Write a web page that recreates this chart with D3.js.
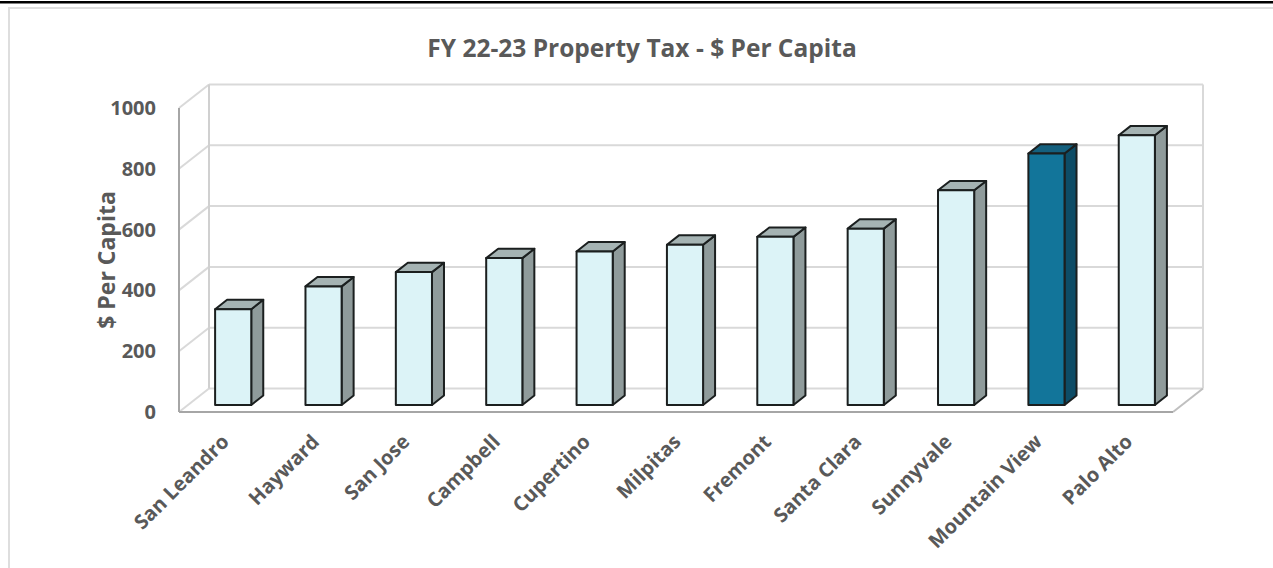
<!DOCTYPE html>
<html>
<head>
<meta charset="utf-8">
<script src="https://cdn.jsdelivr.net/npm/d3@7"></script>
<style>
  html, body { margin: 0; padding: 0; background: #fff; }
  svg { display: block; }
  text { font-family: "Open Sans", "DejaVu Sans", sans-serif; font-weight: 700; fill: #595959; }
</style>
</head>
<body>
<svg id="chart" width="1273" height="568"></svg>
<script>
// FY 22-23 property tax revenue per resident, by city
const cities = ["San Leandro", "Hayward", "San Jose", "Campbell", "Cupertino", "Milpitas",
                "Fremont", "Santa Clara", "Sunnyvale", "Mountain View", "Palo Alto"];
const perCapita = [315, 390, 437, 483, 505, 527, 553, 580, 706, 827, 887];
const highlighted = ["Mountain View"];
const yTicks = [0, 200, 400, 600, 800, 1000];
const chartTitle = "FY 22-23 Property Tax - $ Per Capita";
const yTitle = "$ Per Capita";

const svg = d3.select("#chart");

// page frame
svg.append("rect").attr("x", 0).attr("y", 1).attr("width", 1273).attr("height", 2.5).attr("fill", "#000");
svg.append("path").attr("d", "M9,568 V8 H1273").attr("fill", "none").attr("stroke", "#dedede").attr("stroke-width", 2);

// front plane scales; depth is projected with a fixed oblique offset
const y = d3.scaleLinear().domain([0, 1000]).range([412, 108]);
const x = d3.scaleBand().domain(cities).range([179, 1173]).paddingInner(0.6).paddingOuter(0.3);
const DX = 30, DY = 23.5;
const proj = (px, v, z) => [px + z * DX, y(v) - z * DY];
const line = d3.line();

const x0 = x.range()[0], x1 = x.range()[1];
const vMax = y.domain()[1];

const walls = svg.append("g");
// back wall gridlines and side-wall diagonals
yTicks.forEach(t => {
  walls.append("path").attr("d", line([proj(x0, t, 1), proj(x1, t, 1)]))
    .attr("stroke", "#d9d9d9").attr("stroke-width", 2).attr("fill", "none");
  walls.append("path").attr("d", line([proj(x0, t, 0), proj(x0, t, 1)]))
    .attr("stroke", "#d9d9d9").attr("stroke-width", 2).attr("fill", "none");
});
// back wall verticals
walls.append("path").attr("d", line([proj(x0, 0, 1), proj(x0, vMax, 1)]))
  .attr("stroke", "#d0d0d0").attr("stroke-width", 2).attr("fill", "none");
walls.append("path").attr("d", line([proj(x1, 0, 1), proj(x1, vMax, 1)]))
  .attr("stroke", "#d9d9d9").attr("stroke-width", 2).attr("fill", "none");
// floor right edge and front edges
walls.append("path").attr("d", line([proj(x1, 0, 0), proj(x1, 0, 1)]))
  .attr("stroke", "#bfbfbf").attr("stroke-width", 2).attr("fill", "none");
walls.append("path").attr("d", line([proj(x0, 0, 0), proj(x1, 0, 0)]))
  .attr("stroke", "#a6a6a6").attr("stroke-width", 2).attr("fill", "none");
walls.append("path").attr("d", line([proj(x0, 0, 0), proj(x0, vMax, 0)]))
  .attr("stroke", "#a6a6a6").attr("stroke-width", 2).attr("fill", "none");

// y tick labels
svg.append("g").selectAll("text").data(yTicks).join("text")
  .attr("x", x0 - 23).attr("y", d => y(d)).attr("dy", "0.35em")
  .attr("text-anchor", "end").style("font-size", "20px")
  .text(d => d);

// 3D bars: front, side and top faces
const Z0 = 0.3, Z1 = 0.7;
const palette = {
  normal: { front: "#dcf3f7", side: "#8f9b9b", top: "#a5b3b3" },
  hi: { front: "#12759a", side: "#0d4c66", top: "#14607e" }
};
const bars = svg.append("g").selectAll("g").data(cities.map((c, i) => ({ c, v: perCapita[i] }))).join("g");
bars.each(function(d) {
  const g = d3.select(this);
  const col = highlighted.includes(d.c) ? palette.hi : palette.normal;
  const l = x(d.c), r = x(d.c) + x.bandwidth();
  const face = (pts, fill) => g.append("path").attr("d", line(pts) + "Z")
    .attr("fill", fill).attr("stroke", "#1b1f1f").attr("stroke-width", 2).attr("stroke-linejoin", "round");
  face([proj(r, 0, Z0), proj(r, 0, Z1), proj(r, d.v, Z1), proj(r, d.v, Z0)], col.side);
  face([proj(l, d.v, Z0), proj(r, d.v, Z0), proj(r, d.v, Z1), proj(l, d.v, Z1)], col.top);
  face([proj(l, 0, Z0), proj(r, 0, Z0), proj(r, d.v, Z0), proj(l, d.v, Z0)], col.front);
});

// category labels, rotated
svg.append("g").selectAll("text").data(cities).join("text")
  .attr("transform", d => `translate(${x(d) + x.bandwidth() / 2 + 6},443) rotate(-45)`)
  .attr("text-anchor", "end").style("font-size", "20px")
  .text(d => d);

// titles
svg.append("text").attr("x", 642).attr("y", 57).attr("text-anchor", "middle")
  .style("font-size", "24.5px").text(chartTitle);
svg.append("text").attr("transform", "translate(115,260) rotate(-90)").attr("text-anchor", "middle")
  .style("font-size", "23px").text(yTitle);
</script>
</body>
</html>
